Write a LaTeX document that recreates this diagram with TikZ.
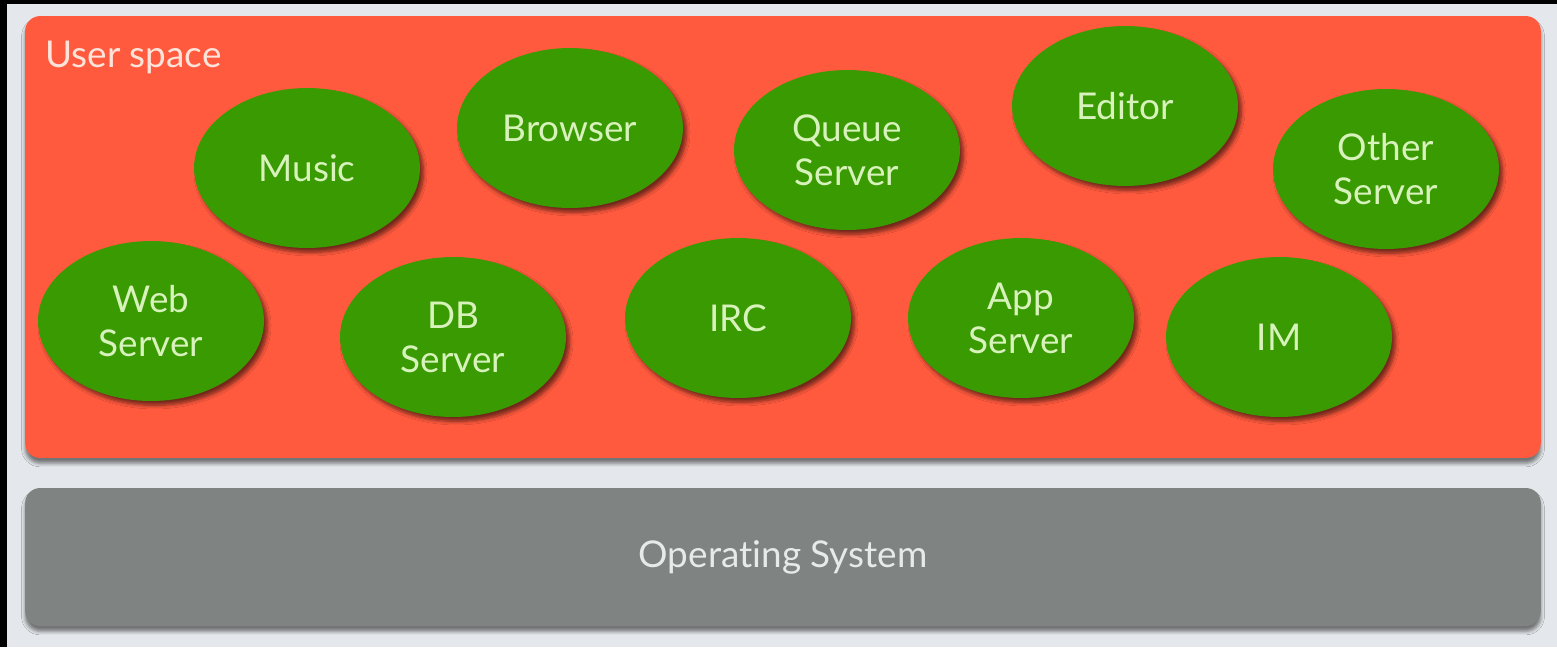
\documentclass[tikz,border=0pt]{standalone}
\usepackage{fontspec}
\setmainfont{Lato}[Ligatures=NoCommon]
\usetikzlibrary{shapes.geometric, shadows.blur}
\definecolor{slidegrey}{HTML}{E4E7EB}
\definecolor{userred}{HTML}{FF5A3E}
\definecolor{procgreen}{HTML}{3A9A02}
\definecolor{osgrey}{HTML}{7F8482}
\definecolor{proctext}{HTML}{D8F2BC}
\definecolor{usertext}{HTML}{FDE3DA}
\definecolor{ostext}{HTML}{E6EAE8}

\tikzset{
  process/.style={ellipse, fill=procgreen, minimum width=4.52cm, minimum height=3.2cm,
    inner sep=0pt, align=center, text=proctext, font=\fontsize{21}{25}\selectfont,
    blur shadow={shadow xshift=2pt, shadow yshift=-2.5pt, shadow opacity=55, shadow blur steps=6}},
  layer/.style={rounded corners=0.3cm, minimum width=30.32cm, inner sep=0pt,
    blur shadow={shadow xshift=0pt, shadow yshift=-3pt, shadow opacity=50}},
}

\begin{document}
\begin{tikzpicture}[x=0.02cm, y=-0.02cm]
  % Slide background with dark edge on the left and top
  \fill[black] (0,0) rectangle (1557,647);
  \fill[slidegrey] (7,4) rectangle (1557,647);
  \useasboundingbox (0,0) rectangle (1557,647);

  % The two layers
  \node[layer, fill=userred, minimum height=8.84cm] (userspace) at (783,237) {};
  \node[layer, fill=osgrey, minimum height=2.76cm, text=ostext,
        font=\fontsize{21}{25}\selectfont] (os) at (783,557) {Operating System};
  \node[anchor=base west, inner sep=0pt, text=usertext,
        font=\fontsize{21}{25}\selectfont] (userlabel) at (45,67) {User space};

  % Processes, upper row
  \node[process] (music)   at (307,168)  {Music};
  \node[process] (browser) at (570,128)  {Browser};
  \node[process] (queue)   at (847,150)  {Queue\\Server};
  \node[process] (editor)  at (1125,106) {Editor};
  \node[process] (other)   at (1386,169) {Other\\Server};

  % Processes, lower row
  \node[process] (web) at (151,321)  {Web\\Server};
  \node[process] (db)  at (453,337)  {DB\\Server};
  \node[process] (irc) at (738,318)  {IRC};
  \node[process] (app) at (1021,318) {App\\Server};
  \node[process] (im)  at (1279,337) {IM};
\end{tikzpicture}
\end{document}
